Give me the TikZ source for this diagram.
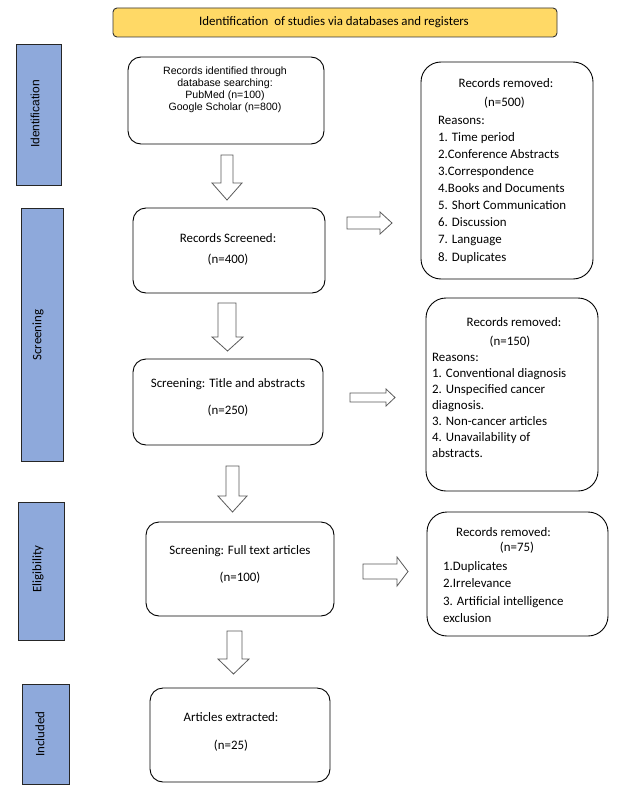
\documentclass[tikz,border=0pt]{standalone}
\usepackage{fontspec}
\setmainfont{Carlito}
\newfontfamily\arialfont{Liberation Sans}
\definecolor{barblue}{HTML}{8EA9DB}
\definecolor{titlegold}{HTML}{FFD966}
\definecolor{arrowgray}{HTML}{5A5A5A}
\begin{document}
\begin{tikzpicture}[x=1pt,y=-1pt,
  txt/.style={inner sep=0pt,font=\fontsize{12.9}{15}\selectfont,text=black},
  flowbox/.style={draw=black,line width=0.9pt,rounded corners=13pt,fill=white,inner sep=0pt},
  sidebox/.style={draw=black,line width=0.9pt,rounded corners=20pt,fill=white,inner sep=0pt},
  stagebar/.style={draw=black!85,line width=0.9pt,fill=barblue,inner sep=0pt},
  blockarrow/.style={draw=arrowgray,line width=0.8pt,fill=white,line join=miter}
]
\useasboundingbox (0,0) rectangle (622,792);
\fill[white] (0,0) rectangle (622,792);

% title
\node[draw=black!80,line width=0.9pt,rounded corners=4pt,fill=titlegold,inner sep=0pt,
      minimum width=444pt,minimum height=29pt] (title) at (335,22.5) {};
\node[txt] (titletext) at (334,22) {Identification\ \ of studies via databases and registers};

% stage bars
\node[stagebar,minimum width=45pt,minimum height=141pt] (barid) at (38.5,114.5) {};
\node[inner sep=0pt,rotate=90,font=\arialfont\fontsize{12}{14}\selectfont] (labid) at (35,114) {Identification};
\node[stagebar,minimum width=42pt,minimum height=253pt] (barsc) at (42,334.5) {};
\node[txt,rotate=90] (labsc) at (38,335) {Screening};
\node[stagebar,minimum width=46pt,minimum height=138pt] (barel) at (41,571) {};
\node[txt,rotate=90] (label) at (38,569) {Eligibility};
\node[stagebar,minimum width=47pt,minimum height=100pt] (barin) at (45.5,734) {};
\node[txt,rotate=90] (labin) at (40,734) {Included};

% main flow boxes
\node[flowbox,minimum width=196pt,minimum height=87pt] (b1) at (226,100.5) {};
\node[inner sep=0pt,align=center,font=\arialfont\fontsize{10.6}{12}\selectfont] (b1t) at (225,90)
  {Records identified through\\database searching:\\PubMed (n=100)\\Google Scholar (n=800)};
\node[flowbox,minimum width=192pt,minimum height=85pt] (b2) at (229,250.5) {};
\node[txt,align=center,font=\fontsize{12.9}{21}\selectfont] (b2t) at (228,249.5) {Records Screened:\\(n=400)};
\node[flowbox,minimum width=190pt,minimum height=86pt] (b3) at (228,402) {};
\node[txt,align=center,font=\fontsize{12.9}{27}\selectfont] (b3t) at (228,397.5) {Screening: Title and abstracts\\(n=250)};
\node[flowbox,minimum width=188pt,minimum height=94pt] (b4) at (240,569) {};
\node[txt,align=center,font=\fontsize{12.9}{27}\selectfont] (b4t) at (240,564.5) {Screening: Full text articles\\(n=100)};
\node[flowbox,minimum width=180pt,minimum height=94pt] (b5) at (240,735) {};
\node[txt,align=center,font=\fontsize{12.9}{28}\selectfont] (b5t) at (231,732) {Articles extracted:\\(n=25)};

% side boxes
\node[sidebox,minimum width=172pt,minimum height=217pt] (r1) at (507,170.5) {};
\node[txt] (r1a) at (506,83) {Records removed:};
\node[txt] (r1b) at (504.5,103) {(n=500)};
\node[txt,anchor=west,align=left,font=\fontsize{12.9}{17.1}\selectfont] (r1c) at (438,189.5)
  {Reasons:\\1. Time period\\2.Conference Abstracts\\3.Correspondence\\4.Books and Documents\\5. Short Communication\\6. Discussion\\7. Language\\8. Duplicates};

\node[sidebox,minimum width=172pt,minimum height=193pt] (r2) at (512,394.5) {};
\node[txt] (r2a) at (514,322) {Records removed:};
\node[txt] (r2b) at (510,342) {(n=150)};
\node[txt,anchor=west,align=left,font=\fontsize{12.9}{16}\selectfont] (r2c) at (432,405.5)
  {Reasons:\\1. Conventional diagnosis\\2. Unspecified cancer\\diagnosis.\\3. Non-cancer articles\\4. Unavailability of\\abstracts.};

\node[sidebox,minimum width=181pt,minimum height=124pt] (r3) at (517.5,574) {};
\node[txt] (r3a) at (503.5,532) {Records removed:};
\node[txt] (r3b) at (517,548) {(n=75)};
\node[txt,anchor=west,align=left,font=\fontsize{12.9}{17.3}\selectfont] (r3c) at (443,592)
  {1.Duplicates\\2.Irrelevance\\3. Artificial intelligence\\exclusion};

% block arrows (down)
\draw[blockarrow] (221,155)--(233,155)--(233,183)--(242,183)--(227,200)--(212,183)--(221,183)--cycle;
\draw[blockarrow] (218,303)--(236,303)--(236,337)--(243,337)--(227.5,351)--(212,337)--(218,337)--cycle;
\draw[blockarrow] (226,466)--(239,466)--(239,496)--(247,496)--(232.5,512)--(218,496)--(226,496)--cycle;
\draw[blockarrow] (227,631)--(242,631)--(242,659)--(249,659)--(233.5,674)--(218,659)--(227,659)--cycle;
% block arrows (right)
\draw[blockarrow] (347,217)--(380,217)--(380,212)--(392,223)--(380,234)--(380,229)--(347,229)--cycle;
\draw[blockarrow] (350,393)--(386,393)--(386,389)--(395,397.5)--(386,406)--(386,402)--(350,402)--cycle;
\draw[blockarrow] (363,564)--(397,564)--(397,557)--(408,571.5)--(397,586)--(397,579)--(363,579)--cycle;
\end{tikzpicture}
\end{document}
